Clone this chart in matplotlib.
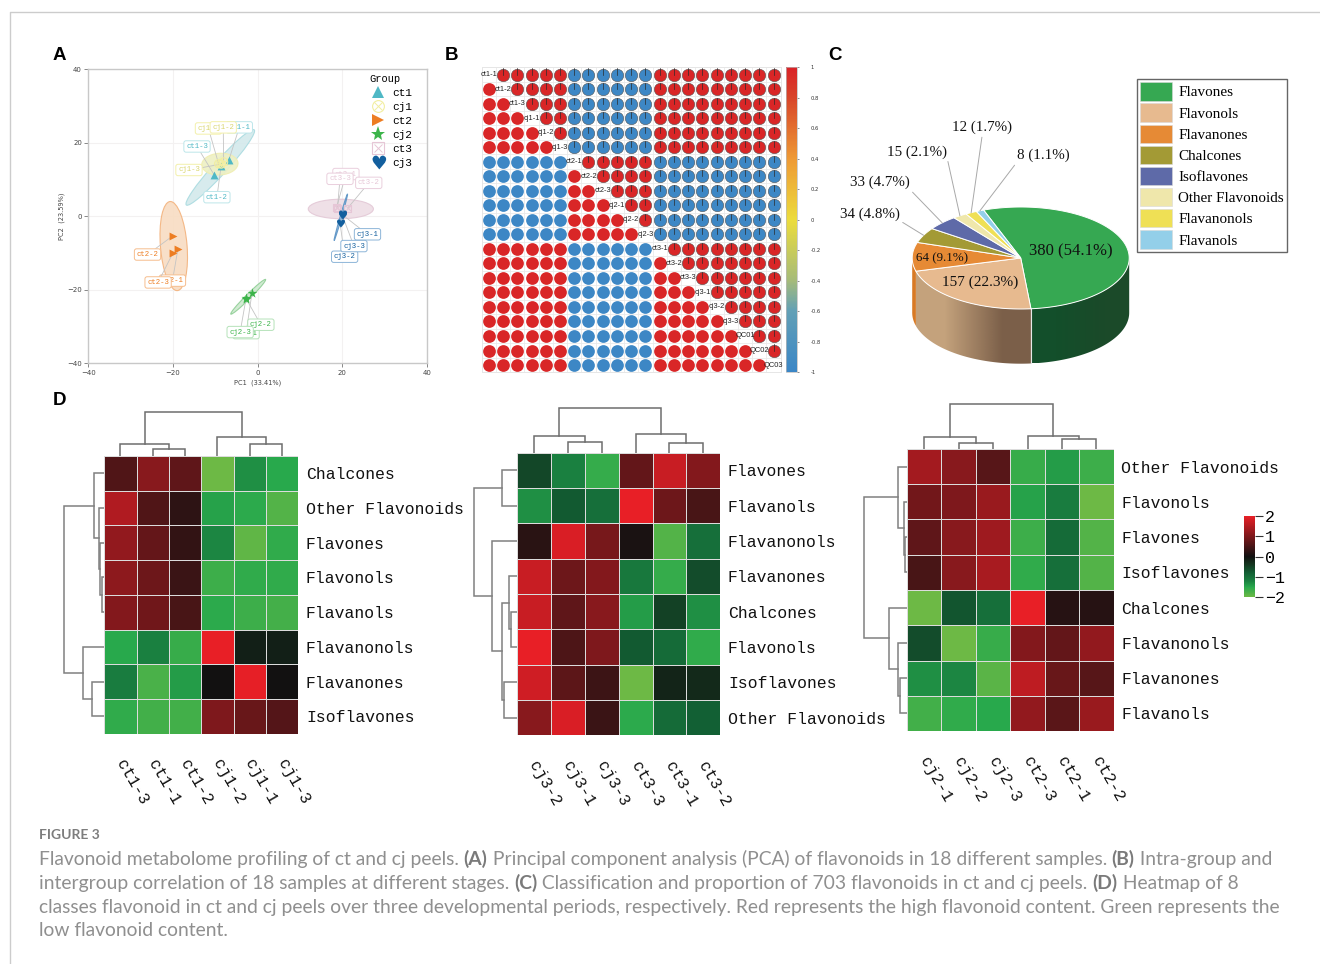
import numpy as np
import matplotlib
matplotlib.use('Agg')
import matplotlib.pyplot as plt
from matplotlib.colors import LinearSegmentedColormap, Normalize
from matplotlib.cm import ScalarMappable
from matplotlib.lines import Line2D
from matplotlib.patches import Ellipse, Patch, Polygon
from matplotlib.path import Path
from matplotlib.textpath import TextPath
from matplotlib.font_manager import FontProperties
from matplotlib.legend_handler import HandlerTuple

W, H = 1320, 964
MONO = 'Liberation Mono'
SERIF = 'Liberation Serif'

# --- panel A data
pca_groups = ['ct1', 'cj1', 'ct2', 'cj2', 'ct3', 'cj3']
pca_x = {'ct1': [-6.8, -8.6, -10.2], 'cj1': [-9.2, -8.0, -8.6], 'ct2': [-18.8, -20.0, -20.0],
         'cj2': [-1.3, -2.7, -2.7], 'ct3': [18.7, 21.3, 18.9], 'cj3': [20.0, 19.5, 20.0]}
pca_y = {'ct1': [15.2, 13.7, 11.2], 'cj1': [14.3, 14.8, 14.2], 'ct2': [-8.8, -5.3, -10.0],
         'cj2': [-20.8, -22.4, -22.3], 'ct3': [2.4, 2.2, 2.2], 'cj3': [0.5, -1.7, 0.4]}
# label x, label y per sample
pca_label_x = {'ct1': [-4.3, -9.6, -14.3], 'cj1': [-11.6, -8.1, -16.2], 'ct2': [-20.1, -26.0, -23.5],
               'cj2': [-2.7, 0.8, -4.1], 'ct3': [20.9, 26.3, 19.5], 'cj3': [26.0, 20.6, 22.8]}
pca_label_y = {'ct1': [24.2, 5.2, 19.0], 'cj1': [23.9, 24.2, 12.6], 'ct2': [-17.5, -10.4, -18.0],
               'cj2': [-31.8, -29.5, -31.5], 'ct3': [11.5, 9.1, 10.2], 'cj3': [-4.9, -11.0, -8.1]}
# center x, center y, width, height, angle
pca_ellipse = {'ct1': (-8.8, 13.3, 26.0, 3.4, 52), 'cj1': (-8.9, 14.2, 8.6, 5.9, 5),
               'ct2': (-19.8, -8.1, 24.3, 6.3, 94), 'cj2': (-2.2, -21.9, 12.5, 1.2, 49),
               'ct3': (19.7, 2.0, 15.4, 5.3, 0), 'cj3': (19.7, -0.25, 13.1, 0.4, 76)}
pca_color = {'ct1': '#4fb8c5', 'cj1': '#f2eea0', 'ct2': '#ed7d22', 'cj2': '#3cb44a', 'ct3': '#e6c6d6', 'cj3': '#135f9e'}
pca_fill = {'ct1': '#d3e9ec', 'cj1': '#eef0c4', 'ct2': '#f8dcc2', 'cj2': '#cde9cf', 'ct3': '#eedde5', 'cj3': '#9cc0df'}
pca_edge = {'ct1': '#a9dbe0', 'cj1': '#f0eeb0', 'ct2': '#f3b27c', 'cj2': '#8fce95', 'ct3': '#e3c8d6', 'cj3': '#5b93c5'}
pca_box = {'ct1': '#bde6ea', 'cj1': '#f3f0aa', 'ct2': '#f6bd8d', 'cj2': '#b5e2b9', 'ct3': '#eacfdd', 'cj3': '#8db5d8'}

# --- panel B data
corr_names = ['ct1-1', 'ct1-2', 'ct1-3', 'cj1-1', 'cj1-2', 'cj1-3', 'ct2-1', 'ct2-2', 'ct2-3', 'cj2-1', 'cj2-2',
              'cj2-3', 'ct3-1', 'ct3-2', 'ct3-3', 'cj3-1', 'cj3-2', 'cj3-3', 'QC01', 'QC02', 'QC03']
corr_rows = ['++++++------+++++++++'] * 6 + ['------++++++---------'] * 6 + ['++++++------+++++++++'] * 9
corr_level = 0.98

# --- panel C data
pie_names = ['Flavones', 'Flavonols', 'Flavanones', 'Chalcones', 'Isoflavones', 'Other Flavonoids', 'Flavanonols', 'Flavanols']
pie_counts = [380, 157, 64, 34, 33, 15, 12, 8]
pie_pct = [54.1, 22.3, 9.1, 4.8, 4.7, 2.1, 1.7, 1.1]
pie_colors = ['#36a852', '#e7ba8f', '#e68a35', '#a39a35', '#5e6aa8', '#efe7ab', '#efe055', '#93cfe9']

# --- panel D data
h1_rows = ['Chalcones', 'Other Flavonoids', 'Flavones', 'Flavonols', 'Flavanols', 'Flavanonols', 'Flavanones', 'Isoflavones']
h1_cols = ['ct1-3', 'ct1-1', 'ct1-2', 'cj1-2', 'cj1-1', 'cj1-3']
h1_vals = [[0.58, 1.10, 0.72, -2.00, -1.30, -1.50],
           [1.48, 0.58, 0.25, -1.45, -1.52, -1.80],
           [1.20, 0.78, 0.30, -1.25, -1.90, -1.55],
           [1.15, 0.85, 0.38, -1.65, -1.55, -1.55],
           [1.05, 0.88, 0.50, -1.52, -1.65, -1.70],
           [-1.50, -1.20, -1.60, 2.00, -0.15, -0.15],
           [-1.15, -1.75, -1.40, 0.00, 1.98, 0.00],
           [-1.55, -1.68, -1.68, 1.00, 0.80, 0.62]]
h1_coltree = (43.7, (11.7, 0, (6.7, 1, 2)), (18.7, 3, (12.3, 4, 5)))
h1_rowtree = (40.7, (10.7, 0, (5, 1, (4.3, 2, (2.7, 3, 4)))), (21, 5, (12, 6, 7)))

h2_rows = ['Flavones', 'Flavanols', 'Flavanonols', 'Flavanones', 'Chalcones', 'Flavonols', 'Isoflavones', 'Other Flavonoids']
h2_cols = ['cj3-2', 'cj3-1', 'cj3-3', 'ct3-3', 'ct3-1', 'ct3-2']
h2_vals = [[-0.55, -1.20, -1.58, 0.75, 1.70, 1.05],
           [-1.30, -0.75, -1.00, 2.00, 0.85, 0.50],
           [0.22, 1.85, 0.95, 0.08, -1.80, -1.00],
           [1.70, 0.85, 1.05, -1.10, -1.58, -0.60],
           [1.70, 0.72, 1.10, -1.40, -0.50, -1.30],
           [2.00, 0.55, 1.00, -0.75, -0.95, -1.55],
           [1.75, 0.70, 0.40, -2.00, -0.20, -0.25],
           [1.10, 1.85, 0.38, -1.52, -0.95, -0.80]]
h2_coltree = (44.3, (17, 0, (11, 1, 2)), (19, 3, (10, 4, 5)))
h2_rowtree = (42.7, (14.7, 0, 1), (25.3, 2, (14.7, (8.3, 3, (5.7, 4, 5)), (12.7, 6, 7))))

h3_rows = ['Other Flavonoids', 'Flavonols', 'Flavones', 'Isoflavones', 'Chalcones', 'Flavanonols', 'Flavanones', 'Flavanols']
h3_cols = ['cj2-1', 'cj2-2', 'cj2-3', 'ct2-3', 'ct2-1', 'ct2-2']
h3_vals = [[1.35, 1.10, 0.65, -1.60, -1.40, -1.65],
           [0.90, 1.00, 1.25, -1.45, -1.15, -2.00],
           [0.72, 1.10, 1.30, -1.65, -0.95, -1.80],
           [0.50, 1.10, 1.40, -1.55, -1.00, -1.80],
           [-2.00, -0.70, -1.00, 2.00, 0.20, 0.20],
           [-0.60, -2.00, -1.60, 1.05, 0.75, 1.20],
           [-1.30, -1.25, -1.85, 1.60, 0.80, 0.65],
           [-1.68, -1.55, -1.50, 1.20, 0.68, 1.25]]
h3_coltree = (44.7, (11.7, 0, (6.3, 1, 2)), (13, 3, (10, 4, 5)))
h3_rowtree = (43.3, (8.7, 0, (3, 1, (2, 2, 3))), (17.7, 4, (9.3, 5, (7.3, 6, 7))))

caption_title = 'FIGURE 3'
caption = [[('Flavonoid metabolome profiling of ct and cj peels. ', 0), ('(A)', 1),
            (' Principal component analysis (PCA) of flavonoids in 18 different samples. ', 0), ('(B)', 1), (' Intra-group and', 0)],
           [('intergroup correlation of 18 samples at different stages. ', 0), ('(C)', 1),
            (' Classification and proportion of 703 flavonoids in ct and cj peels. ', 0), ('(D)', 1), (' Heatmap of 8', 0)],
           [('classes flavonoid in ct and cj peels over three developmental periods, respectively. Red represents the high flavonoid content. Green represents the', 0)],
           [('low flavonoid content.', 0)]]

fig = plt.figure(figsize=(W / 100, H / 100), dpi=100)


def box(x0, y0, x1, y1):
    # pixel box from the top left corner to figure axes
    return fig.add_axes([x0 / W, 1 - y1 / H, (x1 - x0) / W, (y1 - y0) / H])


def ftext(x, y, s, **kw):
    return fig.text(x / W, 1 - y / H, s, **kw)


# page border
fig.add_artist(Line2D([9.5 / W, 9.5 / W, 1], [0, 1 - 11.5 / H, 1 - 11.5 / H], color='#cccccc', lw=1))

for letter, lx, ly in [('A', 53, 56), ('B', 445, 56), ('C', 828, 56), ('D', 53, 400)]:
    ftext(lx, ly, letter, family='Liberation Sans', weight='bold', fontsize=13.5, va='center', color='black')

# ------ A: PCA
ax = box(88.3, 69.3, 426.7, 363.3)
ax.set_xlim(-40, 40)
ax.set_ylim(-40, 40)
ax.set_xticks([-40, -20, 0, 20, 40])
ax.set_yticks([-40, -20, 0, 20, 40])
ax.grid(color='#f3f1f1', lw=0.8)
ax.set_axisbelow(True)
for s in ax.spines.values():
    s.set_color('#c8c8c8')
    s.set_linewidth(1)
ax.tick_params(labelsize=5, length=3, width=0.7, color='#888888', labelcolor='#444444', pad=1.5)
ax.set_xlabel('PC1  (33.41%)', fontsize=4.8, color='#444444', labelpad=3)
ax.set_ylabel('PC2  (23.59%)', fontsize=4.8, color='#444444', labelpad=2)

heart = TextPath((0, 0), '\u2665', size=1, prop=FontProperties(family='DejaVu Sans'))
heart_mid = (heart.vertices.max(axis=0) + heart.vertices.min(axis=0)) / 2
heart = Path(heart.vertices - heart_mid, heart.codes)
pca_marker = {'ct1': '^', 'cj1': 'o', 'ct2': '>', 'cj2': '*', 'ct3': 's', 'cj3': heart}
pca_size = {'ct1': 32, 'cj1': 34, 'ct2': 32, 'cj2': 55, 'ct3': 26, 'cj3': 42}

for g in pca_groups:
    cx, cy, ew, eh, ang = pca_ellipse[g]
    ax.add_patch(Ellipse((cx, cy), ew, eh, angle=ang, facecolor=pca_fill[g], edgecolor=pca_edge[g], lw=0.8, zorder=2, alpha=0.9))
for g in pca_groups:
    for i in range(3):
        ax.annotate(g + '-' + str(i + 1), (pca_x[g][i], pca_y[g][i]), xytext=(pca_label_x[g][i], pca_label_y[g][i]),
                    ha='center', va='center', family=MONO, fontsize=5.3, color=pca_color[g] if g != 'cj1' else '#d9d56f',
                    bbox=dict(boxstyle='round,pad=0.3', fc='white', ec=pca_box[g], lw=0.7),
                    arrowprops=dict(arrowstyle='-', color='#c4c4c4', lw=0.6, shrinkA=0, shrinkB=0), zorder=3)
for g in pca_groups:
    if g in ('cj1', 'ct3'):
        ax.scatter(pca_x[g], pca_y[g], s=pca_size[g], marker=pca_marker[g], facecolor='none', edgecolor=pca_color[g], lw=0.8, zorder=4)
        ax.scatter(pca_x[g], pca_y[g], s=pca_size[g] * 0.6, marker='x', color=pca_color[g], lw=0.7, zorder=4)
    else:
        ax.scatter(pca_x[g], pca_y[g], s=pca_size[g], marker=pca_marker[g], color=pca_color[g], lw=0, zorder=4)

handles = []
for g in pca_groups:
    ms = 8.5
    if g in ('cj1', 'ct3'):
        handles.append((Line2D([], [], ls='', marker=pca_marker[g], ms=ms, mfc='none', mec=pca_color[g], mew=0.8),
                        Line2D([], [], ls='', marker='x', ms=ms * 0.7, color=pca_color[g], mew=0.7)))
    elif g == 'cj3':
        handles.append(Line2D([], [], ls='', marker=heart, ms=11, color=pca_color[g], mew=0))
    elif g == 'cj2':
        handles.append(Line2D([], [], ls='', marker='*', ms=11, color=pca_color[g], mew=0))
    else:
        handles.append(Line2D([], [], ls='', marker=pca_marker[g], ms=ms, color=pca_color[g], mew=0))
leg = ax.legend(handles, pca_groups, handler_map={tuple: HandlerTuple(ndivide=1)}, title='Group', frameon=False,
                loc='upper left', bbox_to_anchor=(0.83, 0.985), prop=dict(family=MONO, size=8), labelspacing=0.36,
                handletextpad=0.55, handlelength=1.5, borderpad=0, borderaxespad=0, alignment='left')
leg.get_title().set_family(MONO)
leg.get_title().set_fontsize(7.5)
leg.set_zorder(6)

# ------ B: correlation circles
corr_cmap = LinearSegmentedColormap.from_list('corr', [(0, '#3b86c6'), (0.2, '#62a0b6'), (0.3, '#a5bb7a'), (0.5, '#ecdc3c'),
                                                       (0.7, '#ee9a35'), (0.9, '#d8462a'), (1, '#d92327')])
corr_norm = Normalize(-1, 1)
ax = box(481.7, 67.3, 780.7, 372.3)
n = len(corr_names)
ax.set_xlim(0, n)
ax.set_ylim(n, 0)
ax.set_xticks(range(n + 1))
ax.set_yticks(range(n + 1))
ax.grid(color='#eaeaea', lw=0.6)
ax.set_axisbelow(True)
ax.tick_params(length=0, labelbottom=False, labelleft=False)
for s in ax.spines.values():
    s.set_color('#e6e6e6')
    s.set_linewidth(0.7)
for r in range(n):
    for c in range(n):
        if r == c:
            ax.text(c + 0.5, r + 0.5, corr_names[r], family='Liberation Sans', fontsize=5.4, ha='center', va='center', color='#222222', zorder=5)
            continue
        val = corr_level if corr_rows[r][c] == '+' else -corr_level
        col = corr_cmap(corr_norm(val))
        if c < r:
            ax.scatter(c + 0.5, r + 0.5, s=84, color=col, lw=0, zorder=3)
        else:
            ax.scatter(c + 0.5, r + 0.5, s=80, color=col, edgecolor='#555555', lw=0.4, zorder=3)
            ax.plot([c + 0.5, c + 0.5], [r + 0.5, r + 0.08], color='#2a2a2a', lw=0.5, zorder=4)

cax = box(785.7, 67.3, 797.3, 372.3)
cb = fig.colorbar(ScalarMappable(corr_norm, corr_cmap), cax=cax, ticks=np.round(np.arange(-1, 1.01, 0.2), 1))
cb.ax.set_yticklabels(['-1', '-0.8', '-0.6', '-0.4', '-0.2', '0', '0.2', '0.4', '0.6', '0.8', '1'])
cb.ax.tick_params(labelsize=3.8, length=1.5, width=0.4, pad=8, colors='#333333')
cb.outline.set_edgecolor('#bbbbbb')
cb.outline.set_linewidth(0.5)

# ------ C: 3D pie
rx, ry, depth_px = 108.5, 51.0, 54.7
cx_px, cy_px = 1020.7, 258.0
ax = box(830, 190, 1135, 372)
pie_xlim = ((830 - cx_px) / rx, (1135 - cx_px) / rx)
pie_ylim = ((cy_px - 372) / ry, (cy_px - 190) / ry)
ax.axis('off')
depth = depth_px / ry
start_deg = -20.0
edges = start_deg + np.cumsum([0] + pie_counts) / sum(pie_counts) * 360.0


def rim(deg):
    t = np.radians(deg)
    return np.sin(t), np.cos(t)


def draw_wall(a0, a1, c_left, c_right):
    arc = np.linspace(a0, a1, 80)
    xs, ys = rim(arc)
    verts = np.column_stack([np.r_[xs, xs[::-1]], np.r_[ys, ys[::-1] - depth]])
    poly = Polygon(verts, facecolor='none', edgecolor='none')
    ax.add_patch(poly)
    grad = LinearSegmentedColormap.from_list('wall', [c_left, c_right])
    im = ax.imshow([[0.0, 1.0]], cmap=grad, extent=(xs.min(), xs.max(), verts[:, 1].min(), verts[:, 1].max()),
                   aspect='auto', interpolation='bilinear', zorder=1)
    im.set_clip_path(poly)


draw_wall(90.0, edges[1], '#134f2b', '#1b4a29')
draw_wall(edges[1], edges[2], '#c4a27c', '#7b5f49')
draw_wall(edges[2], 270.0, '#d87a25', '#d87a25')
ax.set_xlim(pie_xlim)
ax.set_ylim(pie_ylim)
x0, y0 = rim(edges[1])
ax.plot([x0, x0], [y0, y0 - depth], color='#e8e8e8', lw=0.8, zorder=2)
for k in range(len(pie_counts)):
    arc = np.linspace(edges[k], edges[k + 1], 120)
    xs, ys = rim(arc)
    ax.add_patch(Polygon(np.column_stack([np.r_[0, xs], np.r_[0, ys]]), facecolor=pie_colors[k], edgecolor='white', lw=0.7, zorder=3))

inner = {0: (1071.3, 251.7, 12), 1: (980, 282.3, 11), 2: (942.3, 258, 9.4)}
for k, (tx, ty, fs) in inner.items():
    ftext(tx, ty, '%d (%.1f%%)' % (pie_counts[k], pie_pct[k]), family=SERIF, fontsize=fs, ha='center', va='center', color='#111111', zorder=8)
outer = {3: (870, 214, (1, 0)), 4: (880, 182.7, (1, 0)), 5: (917.3, 152, (1, 0)), 6: (982.3, 127.7, (0.5, 0)), 7: (1043, 155.7, (0, 0))}
for k, (tx, ty, rp) in outer.items():
    mid = (edges[k] + edges[k + 1]) / 2
    ax.annotate('%d (%.1f%%)' % (pie_counts[k], pie_pct[k]), rim(mid), xytext=(tx, H - ty), textcoords='figure pixels', family=SERIF,
                fontsize=10.8, ha='center', va='center', color='#111111', annotation_clip=False,
                arrowprops=dict(arrowstyle='-', color='#a8a8a8', lw=0.7, shrinkA=0, shrinkB=0, relpos=rp), zorder=5)

pie_handles = [Patch(facecolor=c, edgecolor='#d8d8d8', lw=0.4) for c in pie_colors]
fig.legend(pie_handles, pie_names, loc='upper left', bbox_to_anchor=(1137.3 / W, 1 - 79.3 / H), prop=dict(family=SERIF, size=10.9),
           fancybox=False, edgecolor='#666666', framealpha=1, handlelength=2.1, handleheight=1.48, labelspacing=0.19,
           handletextpad=0.4, borderpad=0.2, borderaxespad=0)

# ------ D: heatmaps
heat_cmap = LinearSegmentedColormap.from_list('heat', [(0, '#6db945'), (0.125, '#28a94c'), (0.2, '#1a8040'), (0.3, '#125f34'),
                                                       (0.42, '#14301d'), (0.5, '#111111'), (1, '#e81f26')])
heat_norm = Normalize(-2, 2)


def draw_tree(node, axis, vertical):
    # returns the leaf position of a node; vertical means heights grow upward
    if not isinstance(node, tuple):
        return node + 0.5, 0
    h, left, right = node
    p0, h0 = draw_tree(left, axis, vertical)
    p1, h1 = draw_tree(right, axis, vertical)
    ps, hs = [p0, p0, p1, p1], [h0, h, h, h1]
    if vertical:
        axis.plot(ps, hs, color='#6e6e6e', lw=1.1, solid_joinstyle='miter')
    else:
        axis.plot(hs, ps, color='#808080', lw=1.1, solid_joinstyle='miter')
    return (p0 + p1) / 2, h


heat_panels = [(104.3, 456.0, 298.3, 733.7, h1_rows, h1_cols, h1_vals, h1_coltree, h1_rowtree),
               (517.0, 452.7, 720.3, 735.3, h2_rows, h2_cols, h2_vals, h2_coltree, h2_rowtree),
               (907.0, 449.0, 1113.7, 731.0, h3_rows, h3_cols, h3_vals, h3_coltree, h3_rowtree)]
for x0, y0, x1, y1, rows, cols, vals, coltree, rowtree in heat_panels:
    ax = box(x0, y0, x1, y1)
    ax.pcolormesh(np.array(vals), cmap=heat_cmap, norm=heat_norm, edgecolors='#dcdcdc', linewidth=0.6)
    ax.set_ylim(8, 0)
    ax.set_xlim(0, 6)
    ax.axis('off')
    for i, name in enumerate(rows):
        ax.annotate(name, (6, i + 0.5), xytext=(5.5, -1), textcoords='offset points', family=MONO, fontsize=11.8, va='center', ha='left', color='#111111', annotation_clip=False)
    for j, name in enumerate(cols):
        cx = x0 + (x1 - x0) * (j + 0.5) / 6
        ftext(cx - 1, y1 + 27, name, family=MONO, fontsize=11.8, rotation=-60, rotation_mode='anchor', ha='left', va='center', color='#111111')
    top = box(x0, y0 - 48, x1, y0)
    top.set_xlim(0, 6)
    top.set_ylim(0, 48)
    top.axis('off')
    draw_tree(coltree, top, True)
    side = box(x0 - 48, y0, x0, y1)
    side.set_xlim(48, 0)
    side.set_ylim(8, 0)
    side.axis('off')
    draw_tree(rowtree, side, False)

cax = box(1244, 516, 1255, 597.3)
cb = fig.colorbar(ScalarMappable(heat_norm, heat_cmap), cax=cax, ticks=[-2, -1, 0, 1, 2])
cb.outline.set_visible(False)
cb.ax.tick_params(labelsize=12, length=6, width=0.8, pad=1, color='#333333')
for t in cb.ax.get_yticklabels():
    t.set_family(MONO)

# ------ caption
cap_color = '#8f8f8f'
ftext(39, 835, caption_title, family='Lato', weight='bold', fontsize=10, va='center', color='#7d7d7d')
fig.canvas.draw()
renderer = fig.canvas.get_renderer()
cap_y = [859, 883, 907, 931]
for line, ly in zip(caption, cap_y):
    px = 39.0
    for seg, bold in line:
        t = ftext(px, ly, seg, family='Lato', weight='bold' if bold else 'normal', fontsize=13.9, va='center', color='#7a7a7a' if bold else cap_color)
        px += t.get_window_extent(renderer).width

fig.savefig('out.png', dpi=100)
